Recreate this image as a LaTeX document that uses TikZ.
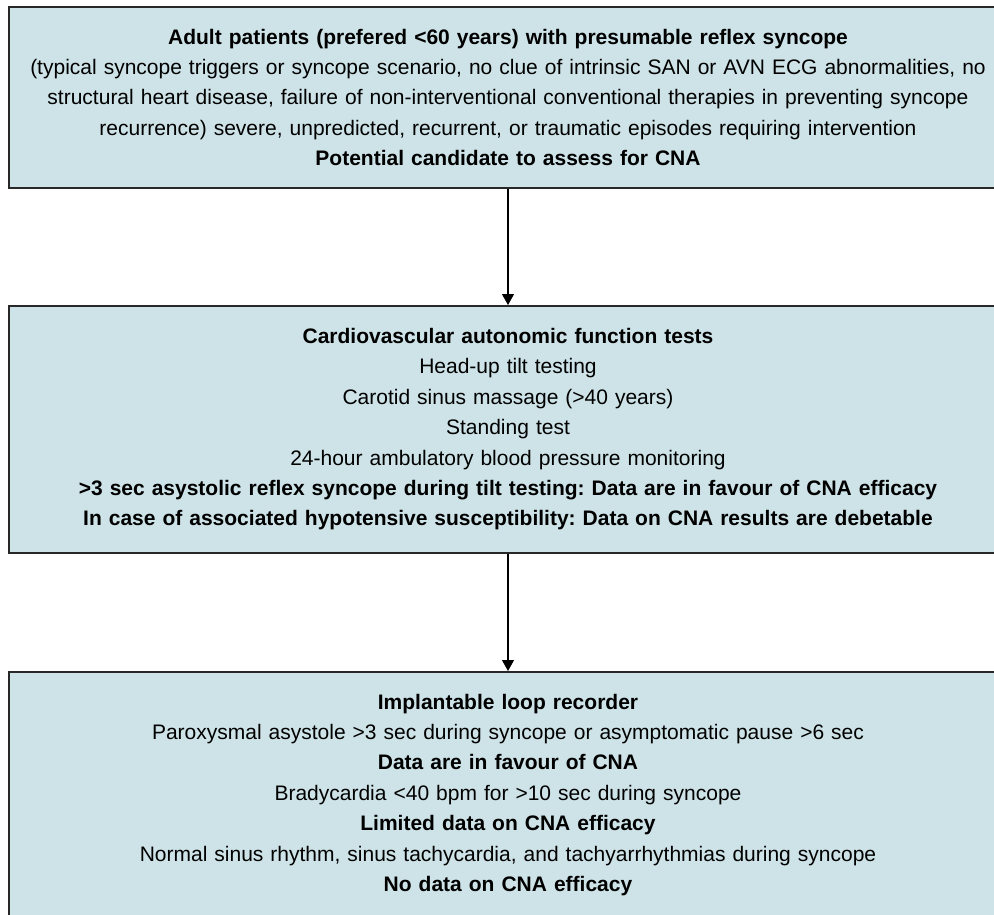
\documentclass[tikz,border=0pt]{standalone}
\usepackage{fontspec}
\setmainfont{Liberation Sans}
\usetikzlibrary{arrows.meta}

\definecolor{boxfill}{RGB}{205,227,231}
\definecolor{boxline}{RGB}{40,40,40}

\tikzset{
  infobox/.style={rectangle, fill=boxfill, draw=boxline, line width=1.6pt,
    text width=998pt, align=center, inner sep=0pt, anchor=north,
    font=\fontsize{21}{30.4}\selectfont\frenchspacing},
  flowarrow/.style={-{Triangle[width=12pt,length=11pt]}, line width=1.2pt}
}

\begin{document}
\begin{tikzpicture}[x=1pt, y=-1pt]
\useasboundingbox (0,0) rectangle (994,914);
\clip (0,0) rectangle (994,914);

\node[infobox, minimum height=181pt] (patients) at (508,6) {
\textbf{Adult patients (prefered <60 years) with presumable reflex syncope}\\
(typical syncope triggers or syncope scenario, no clue of intrinsic SAN or AVN ECG abnormalities, no\\
structural heart disease, failure of non-interventional conventional therapies in preventing syncope\\
recurrence) severe, unpredicted, recurrent, or traumatic episodes requiring intervention\\
\textbf{Potential candidate to assess for CNA}
};

\node[infobox, minimum height=247pt] (tests) at (508,305) {
\textbf{Cardiovascular autonomic function tests}\\
Head-up tilt testing\\
Carotid sinus massage (>40 years)\\
Standing test\\
24-hour ambulatory blood pressure monitoring\\
\textbf{>3 sec asystolic reflex syncope during tilt testing: Data are in favour of CNA efficacy}\\
\textbf{In case of associated hypotensive susceptibility: Data on CNA results are debetable}
};

\node[infobox, minimum height=246pt] (recorder) at (508,671) {
\textbf{Implantable loop recorder}\\
Paroxysmal asystole >3 sec during syncope or asymptomatic pause >6 sec\\
\textbf{Data are in favour of CNA}\\
Bradycardia <40 bpm for >10 sec during syncope\\
\textbf{Limited data on CNA efficacy}\\
Normal sinus rhythm, sinus tachycardia, and tachyarrhythmias during syncope\\
\textbf{No data on CNA efficacy}
};

\draw[flowarrow] (patients.south) -- (tests.north);
\draw[flowarrow] (tests.south) -- (recorder.north);
\end{tikzpicture}
\end{document}
